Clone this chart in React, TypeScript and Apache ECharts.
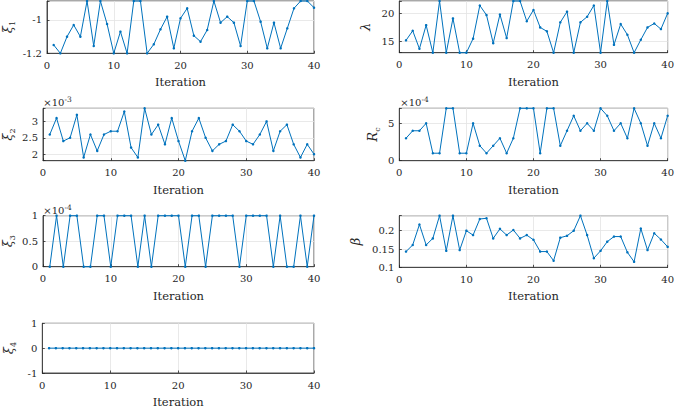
import React, { useEffect, useRef } from "react";
import * as echarts from "echarts";

const iterations = Array.from({ length: 40 }, (_, i) => i + 1);

const xi1 = [-1.15, -1.2, -1.1, -1.03, -1.1, -0.886, -1.156, -0.886, -1.024, -1.2,
  -1.07, -1.2, -0.886, -0.886, -1.2, -1.146, -1.056, -0.98, -1.17, -0.99,
  -0.93, -1.094, -1.13, -1.06, -0.886, -1.016, -0.98, -1.016, -1.156, -0.886,
  -0.886, -1.01, -1.17, -1.016, -1.17, -1.05, -0.93, -0.886, -0.886, -0.926];

const lambda = [15.2, 16.9, 13.7, 17.9, 13, 22.2, 13, 19.1, 13, 13,
  15.5, 21.4, 19.7, 14.7, 19.8, 15.6, 22.2, 22.2, 18.6, 20.6,
  17.5, 16.8, 13, 18.4, 20.3, 13, 18.4, 19.4, 21.4, 13,
  22.2, 14.4, 18.1, 16.2, 13, 15.3, 17.5, 18.2, 17.2, 20];

// shown in units of 10^-3
const xi2 = [2.6, 3.1, 2.4, 2.5, 3.2, 1.9, 2.6, 2.1, 2.6, 2.7,
  2.7, 3.3, 2.2, 1.9, 3.4, 2.6, 2.9, 2.3, 3.1, 2.4,
  1.8, 2.7, 3.1, 2.5, 2.1, 2.3, 2.4, 2.9, 2.7, 2.4,
  2.3, 2.6, 3.0, 2.1, 2.7, 2.9, 2.3, 1.9, 2.3, 2.0];

// shown in units of 10^-4
const rc = [3, 4, 4, 5, 1, 1, 7, 7, 1, 1,
  5, 2, 1, 2, 3, 1, 3, 7, 7, 7,
  1, 7, 7, 2, 4, 6, 4, 5, 4, 7,
  6, 4, 5, 3, 7, 5, 2, 5, 3, 6];

// shown in units of 10^-4
const xi3 = [0, 1, 0, 1, 1, 0, 0, 1, 1, 0,
  1, 1, 1, 0, 1, 0, 1, 1, 1, 1,
  0, 1, 1, 0, 1, 1, 1, 1, 0, 1,
  1, 1, 1, 0, 1, 0, 0, 1, 0, 1];

const beta = [0.143, 0.161, 0.217, 0.161, 0.179, 0.241, 0.145, 0.241, 0.147, 0.2,
  0.188, 0.232, 0.234, 0.179, 0.205, 0.188, 0.202, 0.179, 0.188, 0.175,
  0.143, 0.143, 0.118, 0.181, 0.186, 0.2, 0.241, 0.188, 0.125, 0.145,
  0.17, 0.184, 0.184, 0.141, 0.115, 0.206, 0.147, 0.193, 0.176, 0.156];

const xi4 = [0, 0, 0, 0, 0, 0, 0, 0, 0, 0,
  0, 0, 0, 0, 0, 0, 0, 0, 0, 0,
  0, 0, 0, 0, 0, 0, 0, 0, 0, 0,
  0, 0, 0, 0, 0, 0, 0, 0, 0, 0];

const FONT = "DejaVu Serif";
const INK = "#262626";
const LINE = "#0072BD";

const LEFT_X = 42.3, LEFT_W = 271.7;
const RIGHT_X = 399.3, RIGHT_W = 270.7;

const panels = [
  { data: xi1, min: -1.2, max: -0.886, step: 0.2, name: "{g|ξ}{s|1}", exp: null, left: LEFT_X, width: LEFT_W, top: 1, height: 52.3, nameGap: 31 },
  { data: lambda, min: 13, max: 22.2, step: 5, name: "{g|λ}", exp: null, left: RIGHT_X, width: RIGHT_W, top: 1, height: 51.7, nameGap: 25 },
  { data: xi2, min: 1.8, max: 3.4, step: 0.5, name: "{g|ξ}{s|2}", exp: "-3", left: LEFT_X, width: LEFT_W, top: 108.3, height: 52.4, nameGap: 27 },
  { data: rc, min: 0, max: 7, step: 5, name: "{g|R}{s|c}", exp: "-4", left: RIGHT_X, width: RIGHT_W, top: 108.3, height: 52.4, nameGap: 18 },
  { data: xi3, min: 0, max: 1, step: 0.5, name: "{g|ξ}{s|3}", exp: "-4", left: LEFT_X, width: LEFT_W, top: 215.7, height: 51, nameGap: 27 },
  { data: beta, min: 0.1, max: 0.241, step: 0.05, name: "{g|β}", exp: null, left: RIGHT_X, width: RIGHT_W, top: 215.7, height: 51.6, nameGap: 35 },
  { data: xi4, min: -1, max: 1, step: 1, name: "{g|ξ}{s|4}", exp: null, left: LEFT_X, width: LEFT_W, top: 323.3, height: 50, nameGap: 25 },
];

export default function App() {
  const ref = useRef<HTMLDivElement>(null);
  useEffect(() => {
    if (!ref.current) return;
    const chart = echarts.init(ref.current, null, { renderer: "svg" });
    const grid = panels.map((p) => ({
      left: p.left, top: p.top, width: p.width, height: p.height,
      show: true, borderColor: INK, borderWidth: 0.8, backgroundColor: "#fff",
    }));
    const xAxis = panels.map((p, i) => ({
      type: "value", gridIndex: i, min: 0, max: 40, interval: 10,
      name: "Iteration", nameLocation: "middle", nameGap: 23,
      nameTextStyle: { fontFamily: FONT, fontSize: 11.5, color: INK },
      axisLine: { onZero: false, lineStyle: { color: INK, width: 0.8 } },
      axisTick: { inside: true, length: 2.5, lineStyle: { color: INK, width: 0.8 } },
      axisLabel: { fontFamily: FONT, fontSize: 10, color: INK, margin: 7 },
      splitLine: { show: true, lineStyle: { color: "#e3e3e3", width: 0.8 } },
    }));
    const yAxis = panels.map((p, i) => ({
      type: "value", gridIndex: i, min: p.min, max: p.max,
      minInterval: p.step, maxInterval: p.step,
      name: p.name, nameLocation: "middle", nameRotate: 90, nameGap: p.nameGap,
      nameTextStyle: {
        fontFamily: FONT, color: INK,
        rich: {
          g: { fontFamily: FONT, fontSize: 13, fontStyle: "italic", color: INK, lineHeight: 17 },
          s: { fontFamily: FONT, fontSize: 8, color: INK, verticalAlign: "bottom", lineHeight: 8 },
        },
      },
      axisLine: { lineStyle: { color: INK, width: 0.8 } },
      axisTick: { inside: true, length: 2.5, lineStyle: { color: INK, width: 0.8 } },
      axisLabel: {
        fontFamily: FONT, fontSize: 10, color: INK, margin: 5,
        formatter: (v: number) => {
          const k = v / p.step;
          if (Math.abs(k - Math.round(k)) > 1e-6) return "";
          return String(parseFloat(v.toFixed(4)));
        },
      },
      splitLine: { show: true, lineStyle: { color: "#e3e3e3", width: 0.8 } },
    }));
    const series = panels.map((p, i) => ({
      type: "line", xAxisIndex: i, yAxisIndex: i,
      data: p.data.map((v, j) => [iterations[j], v]),
      symbol: "circle", symbolSize: 2.5, showSymbol: true,
      itemStyle: { color: LINE },
      lineStyle: { color: LINE, width: 1 },
      clip: false,
    }));
    const graphic = panels.filter((p) => p.exp).map((p) => ({
      type: "text", x: p.left + 1, y: p.top - 0.5,
      style: {
        text: "{x|×10}{e|" + p.exp + "}",
        verticalAlign: "bottom", align: "left", fill: INK,
        rich: {
          x: { fontFamily: FONT, fontSize: 10, fill: INK, lineHeight: 12, verticalAlign: "bottom" },
          e: { fontFamily: FONT, fontSize: 7.5, fill: INK, lineHeight: 8, verticalAlign: "top" },
        },
      },
    }));
    chart.setOption({ animation: false, textStyle: { fontFamily: FONT }, grid, xAxis, yAxis, series, graphic });
    return () => chart.dispose();
  }, []);
  return <div ref={ref} style={{ position: "absolute", left: 0, top: 0, width: 677, height: 409, background: "#fff" }} />;
}
